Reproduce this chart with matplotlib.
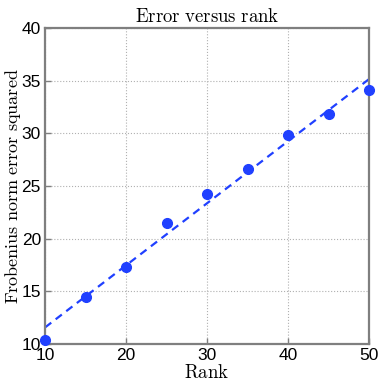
import numpy as np
import matplotlib
matplotlib.use("Agg")
from matplotlib import pyplot as plt

plt.rcParams['mathtext.fontset'] = 'cm'

# data
rank = [10, 15, 20, 25, 30, 35, 40, 45, 50]
error = [10.4, 14.5, 17.3, 21.5, 24.2, 26.6, 29.8, 31.8, 34.1]
x_ticks = [10, 20, 30, 40, 50]
y_ticks = [10, 15, 20, 25, 30, 35, 40]

blue = '#2040ff'
gray = '#7f7f7f'

fig = plt.figure(figsize=(3.82, 3.83), dpi=100)
ax = fig.add_axes([0.118, 0.102, 0.848, 0.825])

# least squares fit
coef = np.polyfit(rank, error, 1)
fit_x = np.array([rank[0], rank[-1]])
ax.plot(fit_x, np.polyval(coef, fit_x), linestyle='--', color=blue, linewidth=1.6,
        dashes=(3.5, 2.5), zorder=2)
ax.plot(rank, error, 'o', color=blue, markersize=7, zorder=3, clip_on=False)

ax.set_xlim(10, 50)
ax.set_ylim(10, 40)
ax.set_xticks(x_ticks)
ax.set_yticks(y_ticks)
ax.grid(True, linestyle=':', color='#b0b0b0', linewidth=0.8)
ax.set_axisbelow(True)

for sp in ax.spines.values():
    sp.set_color(gray)
    sp.set_linewidth(1.6)
ax.tick_params(direction='in', length=4, width=1, color=gray, pad=3,
               labelsize=12.5)
for lab in ax.get_xticklabels() + ax.get_yticklabels():
    lab.set_family('Liberation Sans')

ax.set_title(r'$\mathrm{Error\ versus\ rank}$', fontsize=13.5, pad=4)
ax.set_xlabel(r'$\mathrm{Rank}$', fontsize=13.5, labelpad=0)
ax.set_ylabel(r'$\mathrm{Frobenius\ norm\ error\ squared}$', fontsize=13, labelpad=-1)

fig.savefig('out.png', dpi=100)
